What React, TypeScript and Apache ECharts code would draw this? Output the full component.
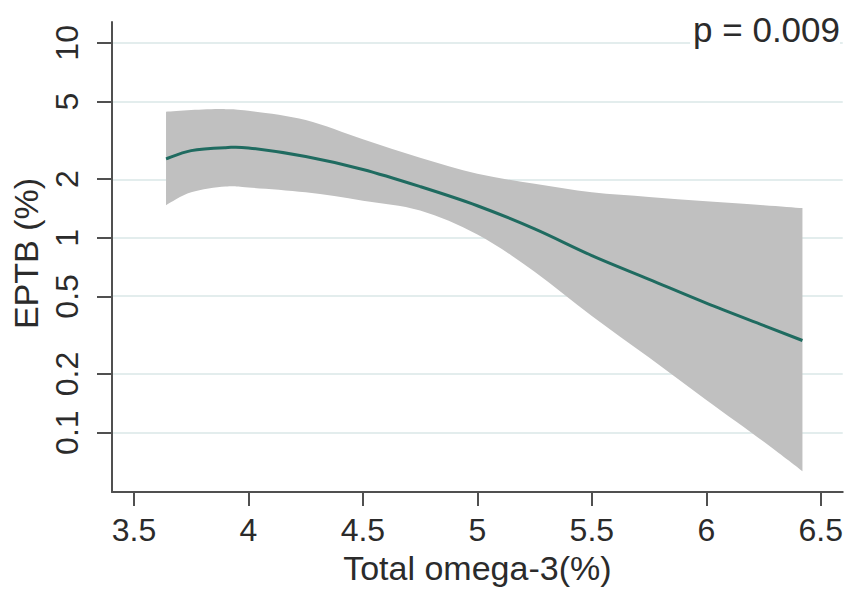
import React, { useEffect, useRef } from "react";
import * as echarts from "echarts";

// Total omega-3 (%) sample points along the fitted curve
const xValues = [3.64, 3.75, 3.9, 4.0, 4.25, 4.5, 4.75, 5.0, 5.25, 5.5, 5.75, 6.0, 6.25, 6.42];
// Fitted EPTB (%)
const fitValues = [2.54, 2.8, 2.9, 2.89, 2.61, 2.24, 1.83, 1.46, 1.11, 0.81, 0.612, 0.462, 0.355, 0.297];
// 95% CI upper / lower
const upperValues = [4.43, 4.52, 4.57, 4.48, 4.02, 3.2, 2.57, 2.13, 1.89, 1.71, 1.62, 1.54, 1.47, 1.42];
const lowerValues = [1.47, 1.71, 1.83, 1.81, 1.71, 1.55, 1.38, 1.04, 0.67, 0.397, 0.243, 0.147, 0.09, 0.0634];

const xTickLabels = ["3.5", "4", "4.5", "5", "5.5", "6", "6.5"];
const yTickLabels = ["0.1", "0.2", "0.5", "1", "2", "5", "10"];

const pText = "p = 0.009";
const xTitle = "Total omega-3(%)";
const yTitle = "EPTB (%)";

const FONT = "'Liberation Sans', Arial, Helvetica, sans-serif";
const TEXT = "#2b2b2b";
const AXIS = "#505050";

const lg = (v: number) => Math.log10(v);

// Catmull-Rom spline through points, as SVG path commands (without the initial M)
function splineSegments(pts: number[][]): string {
  let d = "";
  for (let i = 0; i < pts.length - 1; i++) {
    const p0 = pts[Math.max(0, i - 1)];
    const p1 = pts[i];
    const p2 = pts[i + 1];
    const p3 = pts[Math.min(pts.length - 1, i + 2)];
    const c1x = p1[0] + (p2[0] - p0[0]) / 6;
    const c1y = p1[1] + (p2[1] - p0[1]) / 6;
    const c2x = p2[0] - (p3[0] - p1[0]) / 6;
    const c2y = p2[1] - (p3[1] - p1[1]) / 6;
    d += ` C ${c1x} ${c1y} ${c2x} ${c2y} ${p2[0]} ${p2[1]}`;
  }
  return d;
}

export default function App() {
  const ref = useRef<HTMLDivElement>(null);

  useEffect(() => {
    if (!ref.current) return;
    const chart = echarts.init(ref.current, undefined, { renderer: "svg" });
    const yTicks = yTickLabels.map((s) => lg(parseFloat(s)));
    const xTicks = xTickLabels.map((s) => parseFloat(s));

    const bandData = xValues.map((x, i) => [x, lg(lowerValues[i]), lg(upperValues[i])]);
    const fitData = xValues.map((x, i) => [x, lg(fitValues[i])]);

    chart.setOption({
      animation: false,
      backgroundColor: "#ffffff",
      grid: { left: 112, right: 3, top: 22, bottom: 93, containLabel: false },
      xAxis: {
        type: "value",
        min: 3.404,
        max: 6.596,
        name: xTitle,
        nameLocation: "middle",
        nameGap: 58,
        nameTextStyle: { fontSize: 34, color: TEXT, fontFamily: FONT },
        axisLine: { show: true, onZero: false, lineStyle: { color: AXIS, width: 2 } },
        axisTick: { show: true, length: 14, lineStyle: { color: AXIS, width: 2 }, customValues: xTicks },
        axisLabel: {
          customValues: xTicks,
          fontSize: 32,
          color: TEXT,
          fontFamily: FONT,
          margin: 22,
          formatter: (v: number) => {
            const i = xTicks.findIndex((t) => Math.abs(t - v) < 1e-6);
            return i >= 0 ? xTickLabels[i] : "";
          },
        },
        splitLine: { show: false },
      },
      yAxis: {
        type: "value",
        min: -1.305,
        max: 1.107,
        name: yTitle,
        nameLocation: "middle",
        nameGap: 65,
        nameRotate: 90,
        nameTextStyle: { fontSize: 34, color: TEXT, fontFamily: FONT, padding: [0, 0, 0, 7] },
        axisLine: { show: true, onZero: false, lineStyle: { color: AXIS, width: 2 } },
        axisTick: { show: true, length: 15, lineStyle: { color: AXIS, width: 2 }, customValues: yTicks },
        axisLabel: {
          customValues: yTicks,
          rotate: 90,
          fontSize: 32,
          color: TEXT,
          fontFamily: FONT,
          margin: 29,
          formatter: (v: number) => {
            const i = yTicks.findIndex((t) => Math.abs(t - v) < 1e-6);
            return i >= 0 ? yTickLabels[i] : "";
          },
        },
        splitLine: { show: false },
      },
      graphic: [
        {
          type: "text",
          right: 6,
          top: 12,
          z: 100,
          style: {
            text: pText,
            fontSize: 35,
            fontFamily: FONT,
            fill: TEXT,
            backgroundColor: "#ffffff",
            padding: [0, 0, 0, 3],
          },
        },
      ],
      series: [
        {
          type: "line",
          name: "grid",
          data: [],
          silent: true,
          z: 0,
          markLine: {
            silent: true,
            symbol: "none",
            z: 0,
            label: { show: false },
            lineStyle: { color: "#e3eded", width: 2, type: "solid" },
            data: yTicks.map((t) => ({ yAxis: t })),
          },
        },
        {
          type: "custom",
          name: "band",
          data: bandData,
          encode: { x: 0, y: [1, 2] },
          silent: true,
          z: 2,
          renderItem: (params: any, api: any) => {
            if (params.dataIndex !== 0) return null;
            const up = bandData.map((d) => api.coord([d[0], d[2]]));
            const lo = bandData.map((d) => api.coord([d[0], d[1]])).reverse();
            let path = `M ${up[0][0]} ${up[0][1]}` + splineSegments(up);
            path += ` L ${lo[0][0]} ${lo[0][1]}` + splineSegments(lo) + " Z";
            return {
              type: "path",
              shape: { pathData: path },
              style: { fill: "#c0c0c0", stroke: "none" },
            };
          },
        },
        {
          type: "custom",
          name: "fit",
          data: fitData,
          encode: { x: 0, y: 1 },
          silent: true,
          z: 3,
          renderItem: (params: any, api: any) => {
            if (params.dataIndex !== 0) return null;
            const pts = fitData.map((d) => api.coord([d[0], d[1]]));
            const path = `M ${pts[0][0]} ${pts[0][1]}` + splineSegments(pts);
            return {
              type: "path",
              shape: { pathData: path },
              style: { fill: "none", stroke: "#1f6b60", lineWidth: 3 },
            };
          },
        },
      ],
    });
    return () => chart.dispose();
  }, []);

  return (
    <div
      ref={ref}
      style={{ position: "absolute", left: 0, top: 0, width: 846, height: 590, background: "#fff" }}
    />
  );
}
